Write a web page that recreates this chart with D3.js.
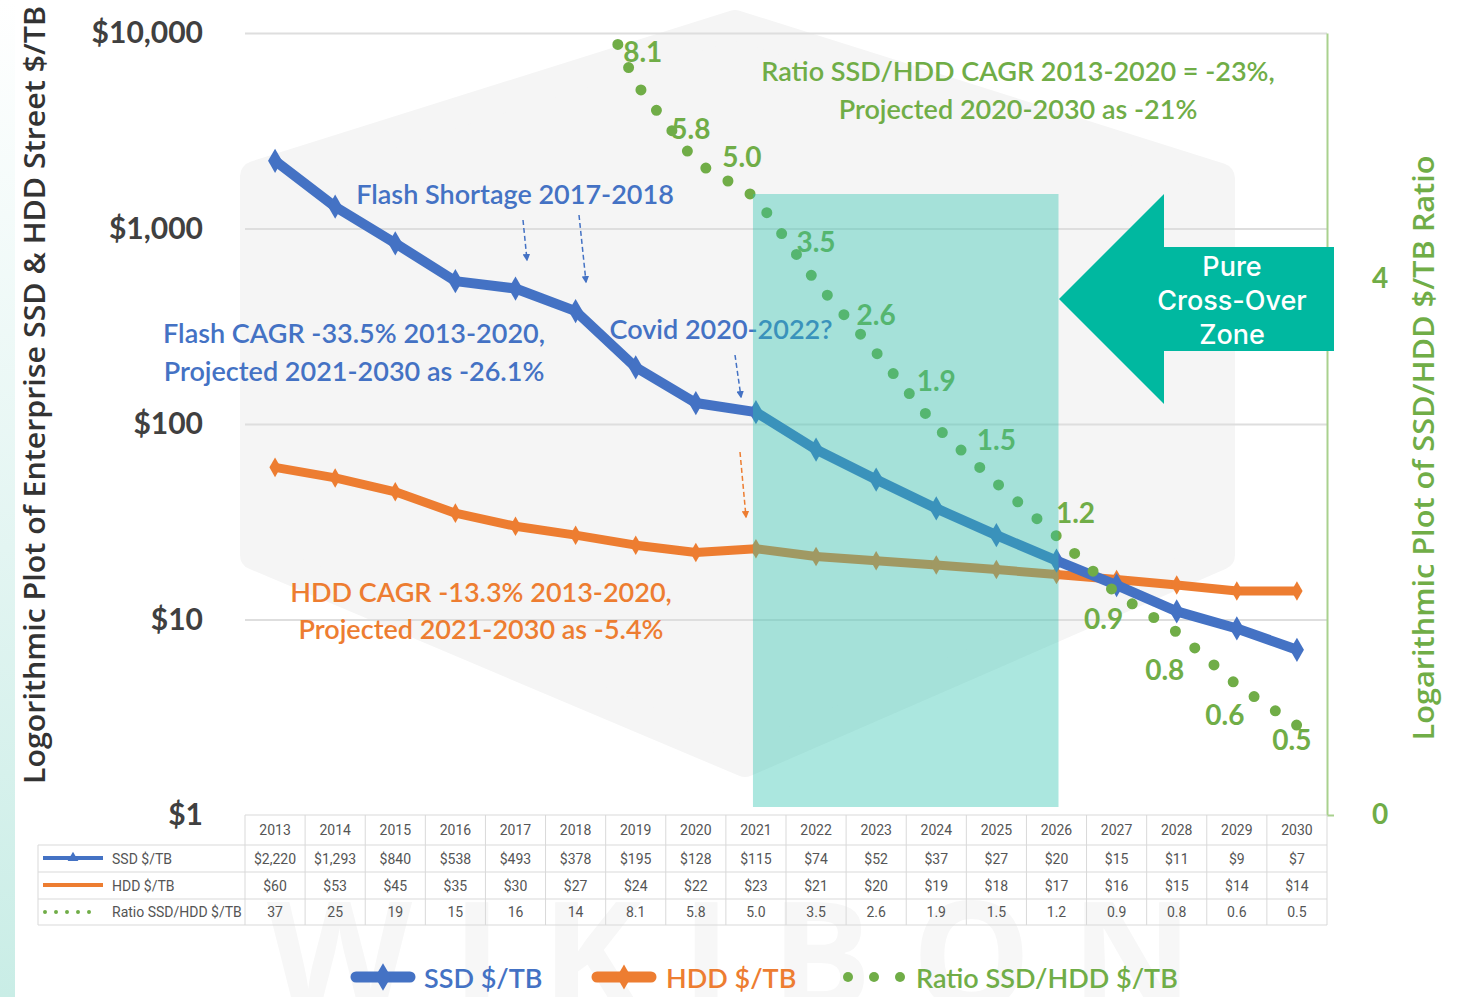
<!DOCTYPE html>
<html>
<head>
<meta charset="utf-8">
<title>SSD vs HDD $/TB</title>
<script src="https://d3js.org/d3.v7.min.js"></script>
<style>
  body { margin: 0; background: #fff; }
  svg { display: block; }
  .lbl { font-family: Lato, "Noto Sans", sans-serif; }
  .tbl { font-family: "Liberation Sans Narrow", Roboto, sans-serif; font-size: 14px; fill: #555; }
</style>
</head>
<body>
<div id="chart"></div>
<script>
// data
const years = [2013, 2014, 2015, 2016, 2017, 2018, 2019, 2020, 2021, 2022, 2023, 2024, 2025, 2026, 2027, 2028, 2029, 2030]
const ssd = [2220, 1293, 840, 538, 493, 378, 195, 128, 115, 74, 52, 37, 27, 20, 15, 11, 9, 7]
const hdd = [60, 53, 45, 35, 30, 27, 24, 22, 23, 21, 20, 19, 18, 17, 16, 15, 14, 14]
// table shows one decimal, the plotted dots sit a bit higher at the end
const ratio = [37, 25, 19, 15, 16, 14, 8.1, 5.8, 5.0, 3.5, 2.6, 1.9, 1.5, 1.2, 0.94, 0.8, 0.64, 0.54]
const leftTicks = [1, 10, 100, 1000, 10000]
const rightTicks = [0.37, 3.55]   // excel log axis, labels rounded to "0" and "4"
const crossYears = [2021, 2026]

const W = 1468, H = 997
const blue = "#4472c4", orange = "#ed7d31", green = "#70ad47"

const svg = d3.select("#chart").append("svg")
    .attr("width", W).attr("height", H)

// left edge teal strip
let grad = svg.append("defs").append("linearGradient")
    .attr("id", "strip").attr("x1", 0).attr("y1", 0).attr("x2", 0).attr("y2", 1)
grad.append("stop").attr("offset", "0").attr("stop-color", "#ffffff")
grad.append("stop").attr("offset", "0.55").attr("stop-color", "#e3f5f2")
grad.append("stop").attr("offset", "1").attr("stop-color", "#c9ede6")
svg.append("rect").attr("x", 0).attr("y", 0).attr("width", 15).attr("height", H)
    .attr("fill", "url(#strip)")

// watermark hexagon + text
svg.append("polygon")
    .attr("points", "255,176 735,25 1220,178 1220,555 745,762 255,555")
    .attr("fill", "#f5f5f5").attr("stroke", "#f5f5f5")
    .attr("stroke-width", 30).attr("stroke-linejoin", "round")
svg.append("text")
    .attr("x", 750).attr("y", 1010)
    .attr("text-anchor", "middle")
    .style("font-family", "Open Sans, sans-serif").style("font-size", "150px")
    .style("font-weight", 700).style("letter-spacing", "40px")
    .attr("fill", "#f7f7f7")
    .text("WIKIBON")

const plotL = 245, plotR = 1327, plotT = 33, plotB = 815

const x = d3.scalePoint().domain(years).range([plotL, plotR]).padding(0.5)
const step = x.step()
const yL = d3.scaleLog().domain([1, 10000]).range([plotB, plotT])
const yR = d3.scaleLog().domain([0.37, 10]).range([plotB, plotT])

// gridlines
svg.append("g")
    .attr("transform", `translate(${plotL},0)`)
    .call(d3.axisLeft(yL).tickValues(leftTicks.slice(1)).tickSize(-(plotR - plotL)).tickFormat(""))
    .call(g => g.select(".domain").remove())
    .call(g => g.selectAll("line").attr("stroke", "#dedede").attr("stroke-width", 2))

// left axis labels
svg.append("g")
    .attr("transform", `translate(${plotL},0)`)
    .call(d3.axisLeft(yL).tickValues(leftTicks).tickFormat(d3.format("$,")).tickSize(0).tickPadding(42))
    .call(g => g.select(".domain").remove())
    .call(g => g.selectAll("text")
        .style("font-family", "Lato, sans-serif").style("font-size", "30px")
        .style("font-weight", 700).attr("fill", "#404040"))

// right axis
svg.append("g")
    .attr("transform", `translate(${plotR},0)`)
    .call(d3.axisRight(yR).tickValues(rightTicks).tickFormat(d3.format(".0f")).tickSize(7).tickPadding(38).tickSizeOuter(0))
    .call(g => g.select(".domain").attr("stroke", "#a9d18e").attr("stroke-width", 2))
    .call(g => g.selectAll("line").attr("stroke", "#a9d18e").attr("stroke-width", 2))
    .call(g => g.selectAll("text")
        .style("font-family", "Lato, sans-serif").style("font-size", "28px")
        .style("font-weight", 700).attr("fill", green))

// axis titles
svg.append("text")
    .attr("transform", "translate(45,395) rotate(-90)")
    .attr("text-anchor", "middle")
    .style("font-family", "Open Sans, sans-serif").style("font-size", "28px").style("font-weight", 600)
    .attr("textLength", 778).attr("lengthAdjust", "spacingAndGlyphs")
    .attr("fill", "#333")
    .text("Logorithmic Plot of Enterprise SSD & HDD Street $/TB")
svg.append("text")
    .attr("transform", "translate(1434,448) rotate(-90)")
    .attr("text-anchor", "middle")
    .style("font-family", "Open Sans, sans-serif").style("font-size", "28px").style("font-weight", 600)
    .attr("textLength", 585).attr("lengthAdjust", "spacingAndGlyphs")
    .attr("fill", green)
    .text("Logarithmic Plot of SSD/HDD $/TB Ratio")

// clip for the plot
svg.append("clipPath").attr("id", "plotclip")
    .append("rect").attr("x", plotL).attr("y", plotT).attr("width", plotR - plotL).attr("height", plotB - plotT)

const plot = svg.append("g").attr("clip-path", "url(#plotclip)")

// series
const lineL = d3.line().x((d, i) => x(years[i])).y(d => yL(d))
const lineR = d3.line().x((d, i) => x(years[i])).y(d => yR(d))

plot.append("path").datum(hdd).attr("d", lineL)
    .attr("fill", "none").attr("stroke", orange).attr("stroke-width", 9).attr("stroke-linejoin", "round")
plot.selectAll(".hddm").data(hdd).enter().append("path")
    .attr("transform", (d, i) => `translate(${x(years[i])},${yL(d)})`)
    .attr("d", d3.symbol(d3.symbolDiamond, 110)).attr("fill", orange)

plot.append("path").datum(ssd).attr("d", lineL)
    .attr("fill", "none").attr("stroke", blue).attr("stroke-width", 10).attr("stroke-linejoin", "round")
plot.selectAll(".ssdm").data(ssd).enter().append("path")
    .attr("transform", (d, i) => `translate(${x(years[i])},${yL(d)})`)
    .attr("d", d3.symbol(d3.symbolDiamond, 170)).attr("fill", blue)

plot.append("path").datum(ratio).attr("d", lineR)
    .attr("fill", "none").attr("stroke", green).attr("stroke-width", 11)
    .attr("stroke-linecap", "round").attr("stroke-dasharray", "0 25.6")

// ratio data labels (offsets from the point)
const ratioShift = {
    2019: [7, -32], 2020: [-5, -34], 2021: [-14, -41], 2022: [0, -41], 2023: [0, -39],
    2024: [0, -47], 2025: [0, -44], 2026: [19, -24], 2027: [-13, 24], 2028: [-12, 37],
    2029: [-12, 29], 2030: [-5, 14]
}
const fmtRatio = v => v >= 10 ? d3.format("d")(v) : d3.format(".1f")(v)
svg.selectAll(".rlab").data(years.filter(y => ratioShift[y])).enter().append("text")
    .attr("class", "lbl")
    .attr("x", d => x(d) + ratioShift[d][0])
    .attr("y", d => yR(ratio[years.indexOf(d)]) + ratioShift[d][1])
    .attr("text-anchor", "middle").attr("dominant-baseline", "central")
    .style("font-size", "28px").style("font-weight", 700).attr("fill", green)
    .text(d => fmtRatio(ratio[years.indexOf(d)]))

// annotations
function note(lines, cx, cy, color, size, gap) {
    lines.forEach((t, i) => {
        svg.append("text").attr("class", "lbl")
            .attr("x", cx).attr("y", cy + i * gap)
            .attr("text-anchor", "middle").attr("dominant-baseline", "central")
            .style("font-size", size + "px").style("font-weight", 600)
            .attr("fill", color).text(t)
    })
}
note(["Flash Shortage 2017-2018"], 515, 193, blue, 27, 0)
note(["Flash CAGR -33.5% 2013-2020,", "Projected 2021-2030 as -26.1%"], 354, 332, blue, 27, 38)
note(["Covid 2020-2022?"], 721, 328, blue, 27, 0)
note(["HDD CAGR -13.3% 2013-2020,", "Projected 2021-2030 as -5.4%"], 481, 591, orange, 27, 37)
note(["Ratio SSD/HDD CAGR 2013-2020 = -23%,", "Projected 2020-2030 as -21%"], 1018, 70, green, 27, 38)

// dashed pointer arrows
const defs = svg.select("defs")
;[["ab", blue], ["ao", orange]].forEach(([id, c]) => {
    defs.append("marker").attr("id", id).attr("viewBox", "0 0 10 10")
        .attr("refX", 8).attr("refY", 5).attr("markerWidth", 5).attr("markerHeight", 5)
        .attr("orient", "auto-start-reverse")
        .append("path").attr("d", "M0,0 L10,5 L0,10 Z").attr("fill", c)
})
const pointers = [
    [523, 220, 527, 260, "ab", blue], [579, 215, 586, 282, "ab", blue],
    [735, 355, 741, 397, "ab", blue], [740, 452, 746, 517, "ao", orange]
]
pointers.forEach(p => {
    svg.append("line").attr("x1", p[0]).attr("y1", p[1]).attr("x2", p[2]).attr("y2", p[3])
        .attr("stroke", p[5]).attr("stroke-width", 1.5).attr("stroke-dasharray", "5 3")
        .attr("marker-end", `url(#${p[4]})`)
})

// cross-over zone
svg.append("rect")
    .attr("x", x(crossYears[0]) - 3).attr("y", 194)
    .attr("width", x(crossYears[1]) - x(crossYears[0]) + 5).attr("height", 613)
    .attr("fill", "#2ec4b0").attr("opacity", 0.4)

// big arrow
svg.append("polygon")
    .attr("points", "1059,299 1164,194 1164,247 1334,247 1334,351 1164,351 1164,404")
    .attr("fill", "#00b8a0")
;["Pure", "Cross-Over", "Zone"].forEach((t, i) => {
    svg.append("text").attr("x", 1232).attr("y", 266 + i * 34)
        .attr("text-anchor", "middle").attr("dominant-baseline", "central")
        .style("font-family", "Inter, Roboto, sans-serif").style("font-size", "27px")
        .style("font-weight", 500)
        .attr("fill", "#fff").text(t)
})

// data table
const rowTop = [815, 845, 872, 899, 925]
const tblL = 38
const tbl = svg.append("g")
const lineC = "#d9d9d9"
tbl.append("line").attr("x1", plotL).attr("x2", plotR).attr("y1", rowTop[0]).attr("y2", rowTop[0]).attr("stroke", lineC)
rowTop.slice(1).forEach(y => {
    tbl.append("line").attr("x1", tblL).attr("x2", plotR).attr("y1", y).attr("y2", y).attr("stroke", lineC)
})
years.forEach(yr => {
    tbl.append("line").attr("x1", x(yr) - step / 2).attr("x2", x(yr) - step / 2)
        .attr("y1", rowTop[0]).attr("y2", rowTop[4]).attr("stroke", lineC)
})
tbl.append("line").attr("x1", plotR).attr("x2", plotR).attr("y1", rowTop[0]).attr("y2", rowTop[4]).attr("stroke", lineC)
tbl.append("line").attr("x1", tblL).attr("x2", tblL).attr("y1", rowTop[1]).attr("y2", rowTop[4]).attr("stroke", lineC)

const rows = [
    years.map(String),
    ssd.map(d3.format("$,")),
    hdd.map(d3.format("$,")),
    ratio.map(fmtRatio)
]
rows.forEach((r, ri) => {
    const cy = (rowTop[ri] + rowTop[ri + 1]) / 2
    tbl.selectAll(null).data(r).enter().append("text")
        .attr("class", "tbl")
        .attr("x", (d, i) => x(years[i])).attr("y", cy)
        .attr("text-anchor", "middle").attr("dominant-baseline", "central")
        .text(d => d)
})
const rowNames = ["SSD $/TB", "HDD $/TB", "Ratio SSD/HDD $/TB"]
rowNames.forEach((n, i) => {
    const cy = (rowTop[i + 1] + rowTop[i + 2]) / 2
    tbl.append("text").attr("class", "tbl").attr("x", 112).attr("y", cy)
        .attr("dominant-baseline", "central").style("font-size", "14px").text(n)
})
// table keys
tbl.append("line").attr("x1", 43).attr("x2", 103).attr("y1", 858).attr("y2", 858).attr("stroke", blue).attr("stroke-width", 4)
tbl.append("path").attr("transform", "translate(73,858)").attr("d", d3.symbol(d3.symbolTriangle, 50)).attr("fill", blue)
tbl.append("line").attr("x1", 43).attr("x2", 103).attr("y1", 885).attr("y2", 885).attr("stroke", orange).attr("stroke-width", 4)
tbl.append("line").attr("x1", 45).attr("x2", 100).attr("y1", 912).attr("y2", 912).attr("stroke", green).attr("stroke-width", 4)
    .attr("stroke-linecap", "round").attr("stroke-dasharray", "0 11")

// bottom legend
const lg = svg.append("g")
lg.append("line").attr("x1", 356).attr("x2", 410).attr("y1", 977).attr("y2", 977)
    .attr("stroke", blue).attr("stroke-width", 11).attr("stroke-linecap", "round")
lg.append("path").attr("transform", "translate(383,977)").attr("d", d3.symbol(d3.symbolDiamond, 220)).attr("fill", blue)
lg.append("line").attr("x1", 597).attr("x2", 651).attr("y1", 977).attr("y2", 977)
    .attr("stroke", orange).attr("stroke-width", 11).attr("stroke-linecap", "round")
lg.append("path").attr("transform", "translate(624,977)").attr("d", d3.symbol(d3.symbolDiamond, 180)).attr("fill", orange)
;[848, 874, 900].forEach(cx => {
    lg.append("circle").attr("cx", cx).attr("cy", 977).attr("r", 5).attr("fill", green)
})
;[["SSD $/TB", 424, blue], ["HDD $/TB", 666, orange], ["Ratio SSD/HDD $/TB", 916, green]].forEach(([t, lx, c]) => {
    lg.append("text").attr("class", "lbl").attr("x", lx).attr("y", 977)
        .attr("dominant-baseline", "central")
        .style("font-size", "27px").style("font-weight", 600).attr("fill", c).text(t)
})
</script>
</body>
</html>
